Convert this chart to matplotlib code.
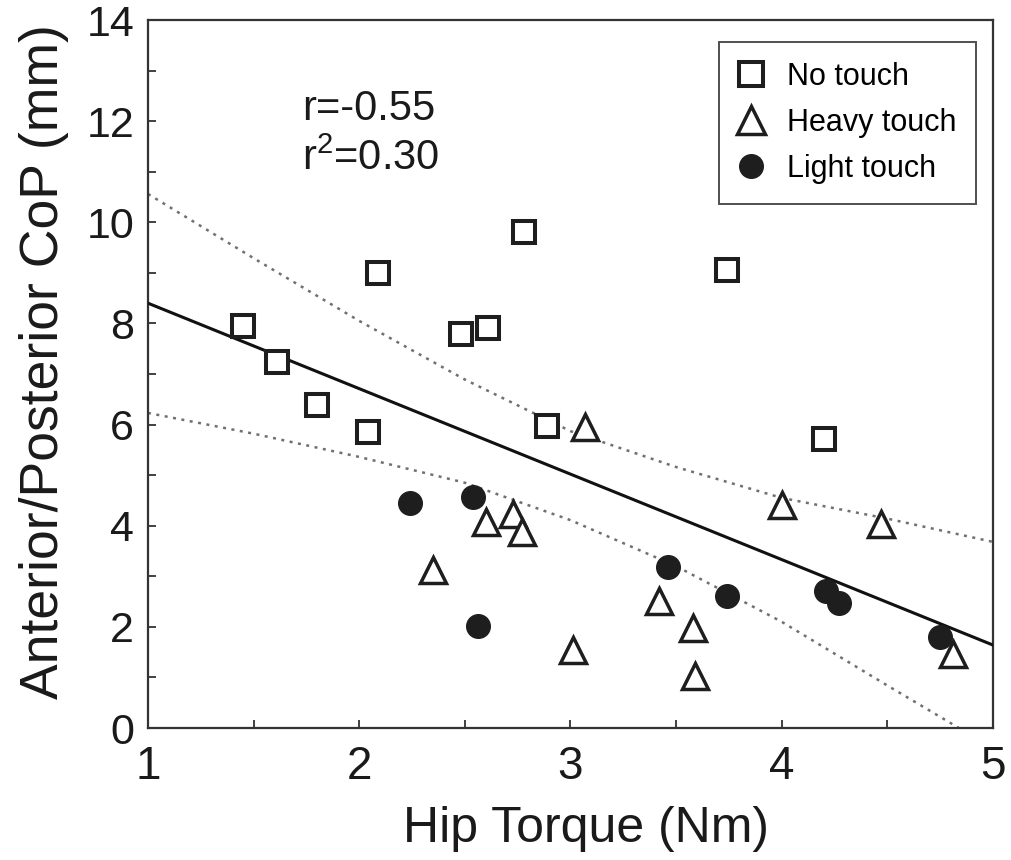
import matplotlib
matplotlib.use("Agg")
import matplotlib.pyplot as plt
from matplotlib.ticker import MultipleLocator
from matplotlib.lines import Line2D

plt.rcParams['font.family'] = ['Liberation Sans', 'DejaVu Sans']
plt.rcParams['mathtext.fontset'] = 'custom'
plt.rcParams['mathtext.rm'] = 'Liberation Sans'

# ---- data ----
no_touch_x = [1.45, 1.61, 1.80, 2.04, 2.09, 2.48, 2.61, 2.78, 2.89, 3.74, 4.20]
no_touch_y = [7.95, 7.24, 6.39, 5.85, 9.00, 7.79, 7.91, 9.81, 5.97, 9.06, 5.71]

heavy_x = [2.35, 2.60, 2.73, 2.77, 3.01, 3.07, 3.42, 3.58, 3.59, 4.00, 4.47, 4.81]
heavy_y = [3.12, 4.07, 4.23, 3.88, 1.54, 5.95, 2.51, 1.98, 1.03, 4.41, 4.03, 1.46]

light_x = [2.24, 2.54, 2.56, 3.46, 3.74, 4.21, 4.27, 4.75]
light_y = [4.45, 4.57, 2.02, 3.18, 2.61, 2.71, 2.47, 1.80]

fit_x = [1.0, 5.0]
fit_y = [8.40, 1.64]

band_x = [1.0, 1.5, 2.0, 2.5, 3.0, 3.5, 4.0, 4.5, 5.0]
band_upper = [10.56, 9.29, 8.05, 6.89, 5.87, 5.16, 4.55, 4.14, 3.68]
band_lower = [6.23, 5.82, 5.36, 4.85, 4.11, 3.20, 2.10, 0.84, -0.40]

stat_lines = ["r=-0.55", r"$\mathregular{r^2}$=0.30"]
labels = ["No touch", "Heavy touch", "Light touch"]

# ---- figure ----
W, H = 1012, 860
fig = plt.figure(figsize=(W/100, H/100), dpi=100)
ax = fig.add_axes([148/W, (H-728)/H, 845/W, 708/H])

ink = '#1e1e1e'
dot = (0, (1.2, 2.2))
ax.plot(band_x, band_upper, linestyle=dot, color='#707070', lw=1.8, zorder=2)
ax.plot(band_x, band_lower, linestyle=dot, color='#707070', lw=1.8, zorder=2)
ax.plot(fit_x, fit_y, color='#111111', lw=2.2, zorder=3)

sq_kw = dict(linestyle='none', marker='s', ms=15.5, mfc='white', mec=ink, mew=2.9)
tr_kw = dict(linestyle='none', marker='^', ms=19, mfc='white', mec=ink, mew=2.5)
ci_kw = dict(linestyle='none', marker='o', ms=17, mfc=ink, mec=ink, mew=1)

ax.plot(no_touch_x, no_touch_y, zorder=4, **sq_kw)
ax.plot(heavy_x, heavy_y, zorder=4, **tr_kw)
ax.plot(light_x, light_y, zorder=5, **ci_kw)

ax.set_xlim(1, 5)
ax.set_ylim(0, 14)
ax.xaxis.set_major_locator(MultipleLocator(1))
ax.xaxis.set_minor_locator(MultipleLocator(0.5))
ax.yaxis.set_major_locator(MultipleLocator(2))
ax.yaxis.set_minor_locator(MultipleLocator(1))
ax.tick_params(which='both', direction='in', top=False, right=False,
               length=6, width=1.3, color='#333333')
ax.tick_params(axis='x', which='major', labelsize=33, pad=12, labelcolor='#1a1a1a')
ax.tick_params(axis='y', which='major', labelsize=31, pad=10, labelcolor='#1a1a1a')
for s in ax.spines.values():
    s.set_linewidth(1.6)
    s.set_color('#333333')

fig.text(586/W, (H-842)/H, "Hip Torque (Nm)", fontsize=36, color='#1a1a1a',
         ha='center', va='baseline')
fig.text(44/W, (H-362)/H, "Anterior/Posterior CoP (mm)", fontsize=38.5,
         color='#1a1a1a', rotation=90, ha='center', va='center')

ax.text(1.73, 12.02, stat_lines[0], fontsize=30, color='#1a1a1a')
ax.text(1.73, 11.03, stat_lines[1], fontsize=30, color='#1a1a1a')

handles = [
    Line2D([], [], **dict(sq_kw, ms=17)),
    Line2D([], [], **dict(tr_kw, ms=20)),
    Line2D([], [], **ci_kw),
]
leg = ax.legend(handles, labels, loc='upper right',
                bbox_to_anchor=((976-148)/845, (728-42)/708),
                fontsize=22, frameon=True, fancybox=False, edgecolor='#222222',
                handlelength=0.8, handletextpad=0.75, borderpad=0.65,
                labelspacing=0.52, borderaxespad=0)
leg.get_frame().set_linewidth(1.4)

fig.savefig("out.png", dpi=100, facecolor='white')
